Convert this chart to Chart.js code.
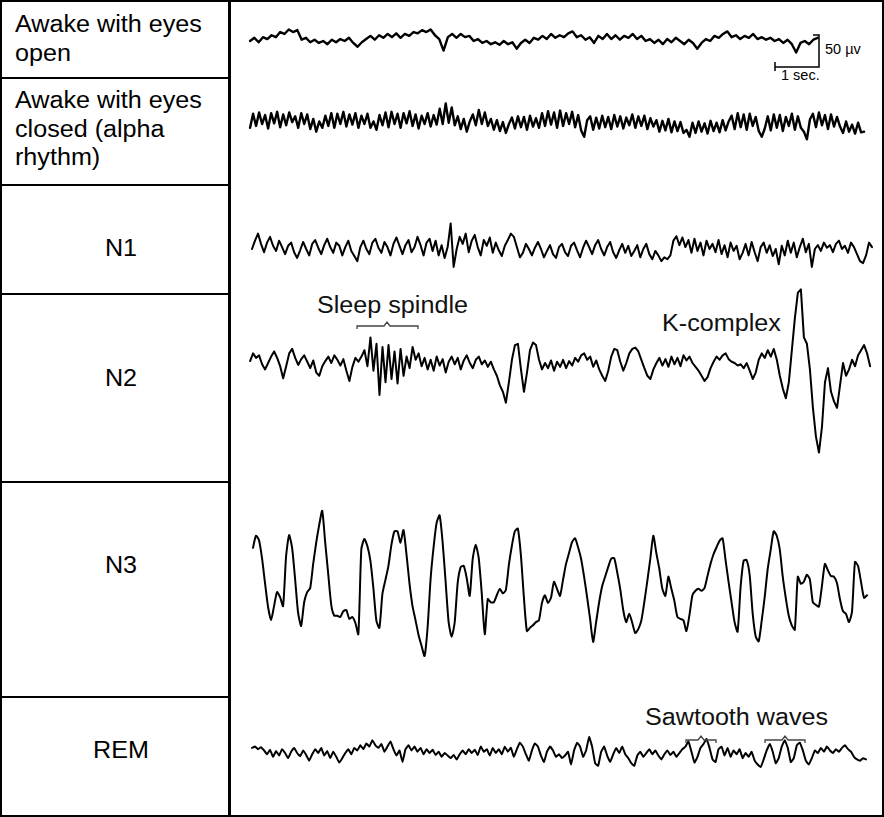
<!DOCTYPE html>
<html>
<head>
<meta charset="utf-8">
<script src="https://cdn.jsdelivr.net/npm/chart.js"></script>
<style>
  html, body { margin: 0; padding: 0; background: #fff; }
  #fig { position: relative; width: 884px; height: 817px; overflow: hidden; background: #fff;
         font-family: "Liberation Sans", Arial, sans-serif; color: #000; }
  .frame { position: absolute; left: 0; top: 0; width: 884px; height: 817px; box-sizing: border-box; border: 2px solid #000; }
  .hl { position: absolute; left: 0; width: 229px; height: 2px; background: #000; }
  .vl { position: absolute; left: 228px; top: 0; width: 3px; height: 817px; background: #000; }
  .lab { position: absolute; font-size: 23.5px; line-height: 28.5px; white-space: nowrap; transform-origin: left top; transform: scaleX(1.07); }
  .ctr { left: 0; width: 242px; text-align: center; transform-origin: center top; }
  .ann { position: absolute; font-size: 23.5px; line-height: 28.5px; white-space: nowrap; color: #111; transform-origin: left top; transform: scaleX(1.07); }
  .small { position: absolute; font-size: 14.5px; line-height: 16px; white-space: nowrap; }
  canvas { position: absolute; }
  svg { position: absolute; left: 0; top: 0; }
</style>
</head>
<body>
<div id="fig">
  <div class="hl" style="top:77px"></div>
  <div class="hl" style="top:184px"></div>
  <div class="hl" style="top:293px"></div>
  <div class="hl" style="top:481px"></div>
  <div class="hl" style="top:696px"></div>
  <div class="vl"></div>
  <div class="frame"></div>

  <div class="lab" style="left:15px;top:10px">Awake with eyes<br>open</div>
  <div class="lab" style="left:15px;top:86px">Awake with eyes<br>closed (alpha<br>rhythm)</div>
  <div class="lab ctr" style="top:234px">N1</div>
  <div class="lab ctr" style="top:364px">N2</div>
  <div class="lab ctr" style="top:551px">N3</div>
  <div class="lab ctr" style="top:736px">REM</div>

  <div class="ann" style="left:317px;top:291px">Sleep spindle</div>
  <div class="ann" style="left:662px;top:309px">K-complex</div>
  <div class="ann" style="left:645px;top:703px">Sawtooth waves</div>

  <div class="small" style="left:825px;top:41px">50 µv</div>
  <div class="small" style="left:781px;top:67px">1 sec.</div>

  <svg width="884" height="817" viewBox="0 0 884 817">
    <g fill="none" stroke="#444" stroke-width="1.3">
      <path d="M357,329 L357,326 L384,326 L387,322 L390,326 L418,326 L418,329"/>
      <path d="M686,743 L686,740 L698,740 L701,736 L704,740 L716,740 L716,743"/>
      <path d="M765,743 L765,740 L782,740 L785,736 L788,740 L805,740 L805,743"/>
    </g>
    <g fill="none" stroke="#000" stroke-width="1.5">
      <path d="M813,35 L819,35 L819,67 L775,67"/>
      <path d="M775,62 L775,71"/>
    </g>
  </svg>
</div>

<script>
// ---- Data (amplitudes in µV; sampling interval in s) ----
const awakeOpenDt = 0.1;
const awakeOpenStart = 0.42;
const awakeOpen = [
  0, 5, -2, 6, 3, 9, 6, 14, 11, 18,
  14, 17, 2, 5, -2, 2, -3, 0, -5, 2,
  -2, 3, 0, 5, -3, -9, -2, 3, 8, 2,
  9, 5, 11, 6, 12, 5, 11, 8, 14, 12,
  17, 14, 18, 9, 3, -15, 6, 11, 5, 11,
  6, 8, 0, 3, -3, 0, -5, -2, -6, 0,
  -5, -2, -12, -3, 2, -3, 5, 2, 8, 3,
  11, 5, 9, 6, 12, 15, 6, 9, 2, 6,
  -3, 8, 3, 11, 3, 9, 2, 8, 5, 11,
  3, 8, 0, 3, -3, 2, -5, 3, -2, 5,
  0, -5, 2, -3, -12, -3, 3, 0, 8, 5,
  11, 15, 6, 9, 3, 8, 5, 11, 3, 6,
  2, 5, 0, 3, -3, 2, -5, -18, -3, 0,
  -5, 2, 5
];

const alphaDt = 0.07;
const alphaStart = 0.42;
const awakeClosed = [
  -6, 16, -3, 18, 0, 14, -7, 17, 1, 19, -5, 15, -2, 18, 3, 12, -6, 17, 0, 15,
  -8, 8, -12, 4, -6,
  13, -3, 17, -6, 16, 0, 19, -4, 15, -1, 17, -6, 13, 0, 16,
  -6, 4, -9,
  14, -2, 18, -5, 19, 0, 16, -6, 17, 1, 20, -3, 15, -7, 13, 0, 17, -4, 14, -1,
  24, 0, 32, 2, 26,
  -2, 12, -8, 8, -12, 4,
  15, -2, 22, 0, 18, -3,
  8, -9, 6, -11, 3, -14, 0,
  10, -7, 12, -5, 11, -9, 13, -4, 9, -6,
  17, -3, 20, -1, 18, -6, 21, -3, 17, 0, 19, -5, 14, -10, -20,
  6, 12, -9, 10, -7, 13, -5, 11, -8, 14, -4, 12, -7, 10, -2, 15, -6, 12, -3, 13, -8, 9, -4,
  6, -12, 5, -10, 8, -13, 4, -11, 3, -14, -9, -20,
  2, -14, 4, -12, 1, -15, 5, -11, 2, -13, 6, -10, 4,
  13, -8, 17, -5, 15, -9, 16, -3, 11, -11, -20,
  -7, 12, -10, 15, -6, 14, -11, 11, -3, 16, -9, 12, -6, -12, -24,
  7, 16, -5, 18, -2, 14, -8, 15, -4, 11,
  -4, -14, 4, -12, -1, -15, 2, -13, -12
];

const n1Dt = 0.07;
const n1Start = 0.465;
const n1 = [
  0, 13, 24, 8, -5, 10, 19, 5, -3, 13, 3, -8, 5,
  10, -5, -14, -2, 11, 0, -10, 8, 14, 2, -8, 6, 16, 3, -6, 10, 5, -10, 3, 13,
  -3, -11, -19, 3, 13, 0, -8, 10, 16, 2, -6, 11, 3, -10, 8, 18, 5, -8, 6, 14,
  -5, 3, 19, 6, -10, 10,
  16, -3, 13, -10, 6, -14, 3, 40, -28,
  0, 19, 8, 24, -5, 13, 22, 3, -10, 14, 5, 18, -6, 10, -2, -11, 5, 14, 24, 19, 3, -13, -6, 8, 0,
  -10, 2, 11, 0, -13, -3, 6, -8, -14, 3, 8, -5, -11, 5, 10, -2, -13, 2, 13, 3, -8, 6, 14, 0,
  -10, 3, 11, -5, -14, -2, 8, -6, 5, -11, -3, 6, -13, 0, 8, -8, -16, -3, -10, -19, -13, -16, -10,
  13, 20, 6, 18, 3, 14,
  -6, 16, -3, 10, -10, 13, 0, 8, -5, 14, -8, 6, -13, 10, -3, 5, -16, -6, 8, -10, 11, -5, -19, 3, 10,
  -6, 6, -11, 0, -24,
  5, -10, 13, -6, 10, -13, 3, 16, -5, 8, -28, 0, 6,
  -3, 10, 2, 6, -5, 8, 13, 0, 5, -6, 10, 3, -8, -19, -22, -10, 10, 3
];

const n2Dt = 0.07;
const n2Start = 0.42;
const n2 = [
  3, 15, 8, 12, -2, -10, 0, 10, 18, 8, -5, -24, -5, 15, 22, 8, -3, 6, 12, 2,
  -8, 4, -15, -20, -5, 3, 10, 0, 12, 5, -4, 6, -12, -28, -6, 8, 2, 10,
  20, -5, 40, -12, 30, -50, 25, -30, 28, -25, 18, -32, 22, -20, 10, -8, 25,
  5, 15, -5, 8, -10, 5, -12, 10, -4, 6, -15, 2, 10, -2, 8, -10, 4, 12, 0, -8,
  5, 10, -2, 4, -6, 2, -10, -20, -35,
  -45, -62, -30, 5, 28, 30, -10, -45, -15, 20, 32, 28, 5, -10, 0, -8, 4,
  -12, 2, -6, 5, -8, 3, -4, 8, 2, 12, 15, 5, 10, -6, 4, -10, -20, -28, -12, 10,
  22, 20, 2, -12, 0, 15, 22, 24, 18, 5,
  -8, -20, -25, -10, 0, 8, -4, 6, -6, 10, -2, 8, -5, 12, 4, 10, 0, -6, -12, -20,
  -28, -22, -8, 2, 10, 5, 12, 15, 6, 2,
  0, -4, -2, -8, 0, -12, -25, -15, 5, 15, 8, 20, 10, 22, 5, -20, -40, -55, -30, 20,
  70, 110, 115, 40, 30, -10, -70, -115, -140, -100, -30, -8, -45, -60, -70, -35,
  0, -20, -10, 5, -5, 12, 20, 28, 15, -5
];

const n3Dt = 0.07;
const n3Start = 0.488;
const n3 = [
  58, 77, 70, 42, 3, -34, -55, -33, -11, -19,
  -33, 45, 78, 58, 9, -44, -64, -27, -11, -5,
  33, 66, 94, 116, 66, 17, -31, -48, -48, -50,
  -41, -39, -53, -50, -59, -77, 56, 72, 61, 38,
  -5, -56, -67, -14, 8, 30, 63, 84, 84, 66,
  86, 48, 2, -33, -55, -78, -95, -111, -67, 9,
  59, 97, 109, 67, 5, -58, -81, -59, 3, 28,
  30, 11, -17, 41, 63, 42, -13, -77, -22, -27,
  -27, -16, -6, -13, -8, 31, 61, 84, 88, 47,
  -19, -72, -67, -63, -58, -55, -28, -16, -28, -20,
  5, -6, -17, 8, 33, 50, 67, 73, 59, 41,
  13, -19, -53, -89, -58, -27, -2, 13, 28, 41,
  42, 20, -6, -39, -58, -45, -59, -75, -69, -56,
  -27, 6, 41, 77, 50, 25, -6, -17, 13, -6,
  -25, -50, -53, -55, -72, -47, -16, -9, -6, -9,
  -5, 14, 33, 48, 59, 69, 73, 39, 5, -27,
  -58, -73, -3, 38, 39, 16, -44, -80, -88, -56,
  -19, 25, 55, 84, 77, 56, 13, -20, -48, -63,
  -70, 13, 2, 5, 16, 9, -27, -31, -34, -2,
  33, 23, 14, 13, 3, -22, -41, -45, -58, -42,
  36, 30, 5, -20, -16
];

const remDt = 0.07;
const remStart = 0.465;
const rem = [
  8, 10, 6, 9, 4,
  -2, 5, -6, 3, -4, 6, 0, -8,
  2, 8, 0, -5, 4, -3, -12, -2, 6, 0, 8, -4, 3, -8, 2, -6, -15, -8,
  0, 6, -2, 8, 4, 12, 6, 15, 10, 20, 12,
  8, 14, 2, 10, 18, 6, -4, 4, -14, 6, 12, 4, 10, 2, 8, -2, 6, 0, 5,
  -3, 2, -6, 0, -4, -8, -3, -10, -2, 4, -2, 6, 0, 5, -3,
  10, 2, 6, -4, 8, 0, 6, -2, 10, 2, 8, -6, 6, 16,
  10, -2, -12, 4, 15, 10, -4, -14, 2, 10, 4,
  -6, -2, -8, -4, 2, -18, 4, 16, 10, -6, 4, 25, 10, -16, -20, 2, 10, -4, -14,
  -2, 8, 0, 10, -2, -8, -16, -20, -4, 2, -6, 0, 6, -2, 4, -4, -10, -2, 4, -3, 2, -6, 0, 6,
  10, 18, 2, -15, -6, 8, 14, 22, 8, -10, -14,
  6, 10, -4, 8, -6, 4, -2, 6, -8, 0, -6, 2, -12, -18,
  -22, -10, 4, 14, 2, -16, -8, 10, 20, 8, -14, -8, 12, 16, 4, -12, -18,
  -8, 4, 0, 8, 2, 10, 4, 0, 6, 2, 8, 12, 6, 2, -6, -10, -12, -8, -10
];

// ---- Layout / scale (from the 50 µV and 1 sec calibration bars) ----
const PX_PER_SEC = 43;
const UV_PER_PX = 50 / 32;
const PANEL_LEFT = 232;
const PANEL_W = 650;

const traces = [
  { values: awakeOpen,   start: awakeOpenStart, dt: awakeOpenDt, top: 2,   h: 76,  base: 41,  width: 2.4, tension: 0 },
  { values: awakeClosed, start: alphaStart,     dt: alphaDt,     top: 80,  h: 104, base: 124, width: 2.4, tension: 0 },
  { values: n1,          start: n1Start,        dt: n1Dt,        top: 187, h: 106, base: 249, width: 2.0, tension: 0 },
  { values: n2,          start: n2Start,        dt: n2Dt,        top: 270, h: 212, base: 363, width: 2.0, tension: 0 },
  { values: n3,          start: n3Start,        dt: n3Dt,        top: 484, h: 212, base: 585, width: 2.0, tension: 0.2 },
  { values: rem,         start: remStart,       dt: remDt,       top: 699, h: 116, base: 753, width: 2.0, tension: 0.1 }
];

const fig = document.getElementById('fig');
traces.forEach(tr => {
  const c = document.createElement('canvas');
  c.width = PANEL_W; c.height = tr.h;
  c.style.left = PANEL_LEFT + 'px';
  c.style.top = tr.top + 'px';
  c.style.width = PANEL_W + 'px';
  c.style.height = tr.h + 'px';
  fig.insertBefore(c, fig.querySelector('svg'));
  new Chart(c, {
    type: 'line',
    data: {
      datasets: [{
        data: tr.values.map((v, i) => ({ x: tr.start + i * tr.dt, y: v })),
        borderColor: '#000',
        borderWidth: tr.width,
        borderJoinStyle: 'round',
        borderCapStyle: 'round',
        pointRadius: 0,
        tension: tr.tension,
        fill: false
      }]
    },
    options: {
      responsive: false,
      animation: false,
      events: [],
      layout: { padding: 0 },
      plugins: { legend: { display: false }, tooltip: { enabled: false } },
      scales: {
        x: { type: 'linear', min: 0, max: PANEL_W / PX_PER_SEC, display: false },
        y: { min: -(tr.top + tr.h - tr.base) * UV_PER_PX, max: (tr.base - tr.top) * UV_PER_PX, display: false }
      }
    }
  });
});
</script>
</body>
</html>
